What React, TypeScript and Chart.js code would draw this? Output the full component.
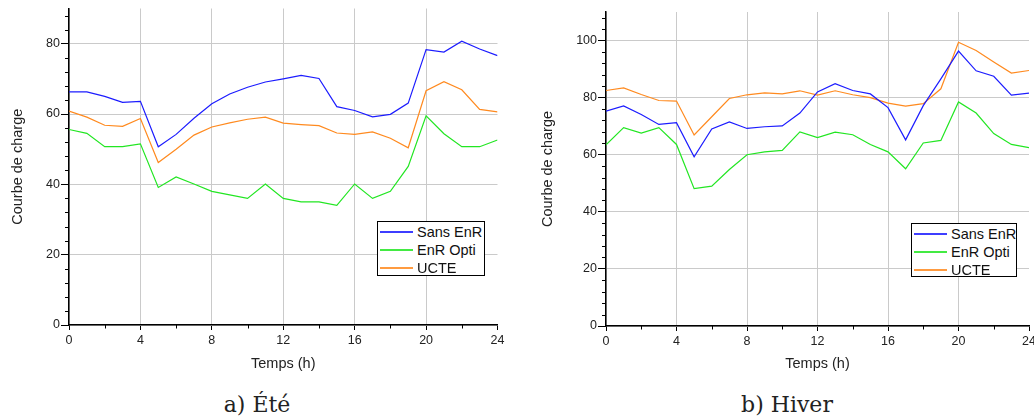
import React, { useEffect, useRef } from "react";
import { Chart, registerables } from "chart.js";

Chart.register(...registerables);

// ---------- data ----------
const hours = [0, 1, 2, 3, 4, 5, 6, 7, 8, 9, 10, 11, 12, 13, 14, 15, 16, 17, 18, 19, 20, 21, 22, 23, 24];
const seriesNames = ["Sans EnR", "EnR Opti", "UCTE"];
const seriesColors = ["#1c1cff", "#22e622", "#ff8a1f"];

const eteSansEnR = [66.3, 66.3, 65.0, 63.3, 63.6, 50.7, 54.2, 58.8, 62.9, 65.7, 67.6, 69.1, 70.0, 71.0, 70.1, 62.1, 61.0, 59.2, 59.9, 63.1, 78.3, 77.6, 80.7, 78.5, 76.6];
const eteEnROpti = [55.6, 54.5, 50.7, 50.7, 51.5, 39.1, 42.1, 40.1, 38.0, 37.0, 36.0, 40.1, 36.0, 35.0, 35.0, 34.0, 40.1, 36.0, 38.0, 45.1, 59.5, 54.4, 50.7, 50.7, 52.6];
const eteUCTE = [60.8, 59.1, 56.8, 56.5, 58.7, 46.2, 50.0, 54.0, 56.3, 57.5, 58.5, 59.1, 57.4, 57.0, 56.7, 54.6, 54.2, 54.9, 53.1, 50.4, 66.6, 69.2, 66.9, 61.3, 60.6];

const hiverSansEnR = [75.3, 77.1, 74.1, 70.6, 71.2, 59.3, 69.0, 71.5, 69.2, 69.8, 70.1, 74.6, 82.0, 84.9, 82.5, 81.3, 76.5, 65.2, 77.2, 86.6, 96.3, 89.4, 87.5, 80.9, 81.6];
const hiverEnROpti = [63.5, 69.5, 67.6, 69.5, 63.6, 48.1, 49.0, 54.8, 60.0, 61.0, 61.5, 68.0, 66.0, 67.9, 67.0, 63.6, 61.0, 55.1, 64.1, 65.0, 78.5, 74.6, 67.4, 63.6, 62.5];
const hiverUCTE = [82.5, 83.4, 81.1, 79.0, 78.8, 66.9, 73.3, 79.7, 81.0, 81.7, 81.3, 82.4, 80.9, 82.4, 81.0, 80.0, 78.1, 77.0, 77.9, 83.1, 99.4, 96.5, 92.5, 88.6, 89.5];

const xTitle = "Temps (h)";
const yTitle = "Courbe de charge";
const captionEte = "a) Été";
const captionHiver = "b) Hiver";
const eteYMax = 90;
const hiverYMax = 110;

// ---------- helpers ----------
const SANS = "'Liberation Sans', Arial, Helvetica, sans-serif";

const minorTicksPlugin = {
  id: "minorTicks",
  afterDraw(chart: any) {
    const { ctx } = chart;
    const xs = chart.scales.x;
    const ys = chart.scales.y;
    ctx.save();
    ctx.strokeStyle = "#000";
    ctx.lineWidth = 1;
    ctx.beginPath();
    for (let v = 4; v < ys.max; v += 4) {
      if (v % 20 === 0) continue;
      const py = Math.round(ys.getPixelForValue(v)) + 0.5;
      ctx.moveTo(xs.left - 4, py);
      ctx.lineTo(xs.left, py);
    }
    for (let h = 2; h < 24; h += 4) {
      const px = Math.round(xs.getPixelForValue(h)) + 0.5;
      ctx.moveTo(px, ys.bottom);
      ctx.lineTo(px, ys.bottom + 3.5);
    }
    ctx.stroke();
    ctx.restore();
  },
};

type PanelProps = {
  left: number;
  width: number;
  height: number;
  series: number[][];
  yMax: number;
  yWidth: number;
  padTop: number;
  padRight: number;
  yTitlePad: number;
  xTitlePad: number;
};

function Panel(p: PanelProps) {
  const ref = useRef<HTMLCanvasElement | null>(null);
  useEffect(() => {
    if (!ref.current) return;
    const tickFont = { family: SANS, size: 12.5 };
    const titleFont = { family: SANS, size: 14.5 };
    const chart = new Chart(ref.current, {
      type: "line",
      data: {
        datasets: p.series.map((vals, i) => ({
          label: seriesNames[i],
          data: hours.map((h, k) => ({ x: h, y: vals[k] })),
          borderColor: seriesColors[i],
          backgroundColor: seriesColors[i],
          borderWidth: 1.2,
          pointRadius: 0,
          tension: 0,
          fill: false,
        })),
      },
      options: {
        animation: false,
        responsive: false,
        maintainAspectRatio: false,
        layout: { padding: { left: 0, right: p.padRight, top: p.padTop, bottom: 0 } },
        plugins: { legend: { display: false }, tooltip: { enabled: false } },
        scales: {
          x: {
            type: "linear",
            min: 0,
            max: 24,
            ticks: { stepSize: 4, font: tickFont, color: "#222", padding: 3, maxRotation: 0 },
            grid: {
              color: (c: any) => (c.tick && c.tick.value === 24 ? "rgba(0,0,0,0)" : "#cacaca"),
              tickColor: "#000",
              tickLength: 5,
              lineWidth: 1,
            },
            border: { color: "#000", width: 1.5 },
            title: { display: true, text: xTitle, font: titleFont, color: "#222", padding: { top: 0, bottom: p.xTitlePad } },
            afterFit: (s: any) => {
              s.height = 50;
            },
          },
          y: {
            type: "linear",
            min: 0,
            max: p.yMax,
            ticks: { stepSize: 20, includeBounds: false, font: tickFont, color: "#222", padding: 1 },
            grid: { color: "#cacaca", tickColor: "#000", tickLength: 8, lineWidth: 1 },
            border: { color: "#000", width: 1.5 },
            title: { display: true, text: yTitle, font: titleFont, color: "#222", padding: { top: p.yTitlePad, bottom: 0 } },
            afterFit: (s: any) => {
              s.width = p.yWidth;
            },
          },
        },
      },
      plugins: [minorTicksPlugin],
    } as any);
    return () => chart.destroy();
  }, []);
  return (
    <canvas
      ref={ref}
      width={p.width}
      height={p.height}
      style={{ position: "absolute", left: p.left, top: 0, width: p.width, height: p.height }}
    />
  );
}

function Legend({ left, top, width, height }: { left: number; top: number; width: number; height: number }) {
  return (
    <div
      style={{
        position: "absolute",
        left,
        top,
        width,
        height,
        boxSizing: "border-box",
        border: "1px solid #000",
        background: "#fff",
        fontFamily: SANS,
        fontSize: 14.5,
        color: "#111",
      }}
    >
      {seriesNames.map((n, i) => (
        <div key={n} style={{ position: "absolute", left: 0, top: [1, 19, 37][i], height: 18, width: "100%" }}>
          <div
            style={{
              position: "absolute",
              left: 2,
              top: 8,
              width: 33,
              height: 2,
              background: seriesColors[i],
              opacity: 0.85,
            }}
          />
          <div style={{ position: "absolute", left: 39, top: 0, lineHeight: "18px", whiteSpace: "nowrap" }}>{n}</div>
        </div>
      ))}
    </div>
  );
}

function Caption({ text, cx }: { text: string; cx: number }) {
  return (
    <div
      style={{
        position: "absolute",
        left: cx - 100,
        width: 200,
        top: 390,
        lineHeight: "30px",
        textAlign: "center",
        fontFamily: "'DejaVu Serif', 'Liberation Serif', serif",
        fontSize: 22,
        color: "#222",
      }}
    >
      {text}
    </div>
  );
}

export default function App() {
  return (
    <div
      style={{
        position: "fixed",
        left: 0,
        top: 0,
        width: 1034,
        height: 419,
        overflow: "hidden",
        background: "#fff",
      }}
    >
      <Panel
        left={0}
        width={520}
        height={375}
        series={[eteSansEnR, eteEnROpti, eteUCTE]}
        yMax={eteYMax}
        yWidth={69}
        padTop={6}
        padRight={22.5}
        yTitlePad={9}
        xTitlePad={2.3}
      />
      <Panel
        left={520}
        width={530}
        height={376}
        series={[hiverSansEnR, hiverEnROpti, hiverUCTE]}
        yMax={hiverYMax}
        yWidth={86}
        padTop={12}
        padRight={21}
        yTitlePad={19}
        xTitlePad={3.3}
      />
      <Legend left={377} top={221} width={108} height={55} />
      <Legend left={911} top={223} width={106} height={54} />
      <Caption text={captionEte} cx={257} />
      <Caption text={captionHiver} cx={787} />
    </div>
  );
}
